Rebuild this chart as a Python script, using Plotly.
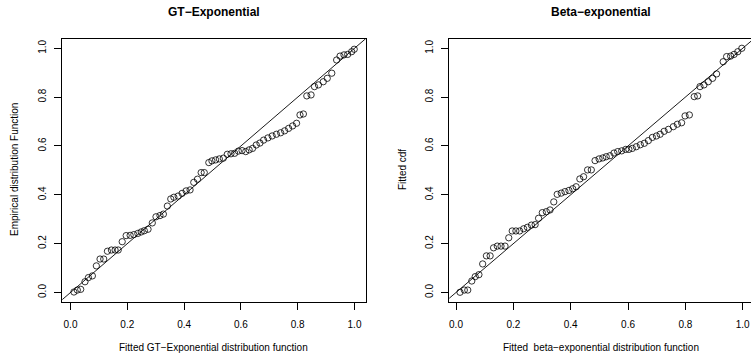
import plotly.graph_objects as go

# ---------------- data ----------------
gt_fitted = [0.012, 0.024, 0.036, 0.051, 0.063, 0.077, 0.091, 0.104, 0.117, 0.130,
             0.144, 0.157, 0.168, 0.182, 0.196, 0.210, 0.223, 0.237, 0.249, 0.260,
             0.273, 0.288, 0.301, 0.315, 0.327, 0.341, 0.353, 0.364, 0.379, 0.393,
             0.407, 0.421, 0.434, 0.447, 0.460, 0.471, 0.487, 0.498, 0.511, 0.524,
             0.538, 0.552, 0.565, 0.578, 0.591, 0.604, 0.617, 0.629, 0.641, 0.654,
             0.667, 0.680, 0.695, 0.710, 0.725, 0.740, 0.754, 0.768, 0.782, 0.796,
             0.808, 0.820, 0.832, 0.847, 0.859, 0.873, 0.890, 0.904, 0.920, 0.937,
             0.949, 0.963, 0.976, 0.990, 0.999]
gt_empirical = [0.002, 0.010, 0.013, 0.044, 0.061, 0.068, 0.109, 0.137, 0.137, 0.169,
                0.174, 0.174, 0.174, 0.208, 0.233, 0.234, 0.237, 0.242, 0.248, 0.253,
                0.259, 0.285, 0.310, 0.315, 0.321, 0.354, 0.383, 0.390, 0.395, 0.406,
                0.416, 0.420, 0.451, 0.464, 0.491, 0.491, 0.532, 0.539, 0.543, 0.547,
                0.550, 0.566, 0.568, 0.570, 0.579, 0.581, 0.577, 0.584, 0.590, 0.604,
                0.612, 0.624, 0.633, 0.641, 0.648, 0.654, 0.662, 0.672, 0.682, 0.693,
                0.727, 0.731, 0.805, 0.809, 0.843, 0.850, 0.863, 0.877, 0.898, 0.952,
                0.968, 0.973, 0.975, 0.986, 0.996]

be_fitted = [0.014, 0.029, 0.041, 0.055, 0.067, 0.080, 0.093, 0.106, 0.119, 0.131,
             0.144, 0.157, 0.171, 0.184, 0.196, 0.209, 0.222, 0.236, 0.249, 0.263,
             0.276, 0.288, 0.301, 0.315, 0.328, 0.341, 0.353, 0.367, 0.380, 0.394,
             0.407, 0.419, 0.432, 0.445, 0.459, 0.472, 0.485, 0.499, 0.512, 0.524,
             0.537, 0.551, 0.564, 0.578, 0.592, 0.603, 0.615, 0.629, 0.643, 0.657,
             0.671, 0.685, 0.699, 0.712, 0.726, 0.741, 0.758, 0.772, 0.787, 0.799,
             0.814, 0.831, 0.843, 0.851, 0.865, 0.880, 0.895, 0.909, 0.932, 0.944,
             0.958, 0.970, 0.983, 0.997]
be_cdf = [0.001, 0.010, 0.010, 0.047, 0.065, 0.073, 0.117, 0.150, 0.150, 0.183,
          0.190, 0.190, 0.190, 0.224, 0.252, 0.252, 0.252, 0.261, 0.267, 0.276,
          0.278, 0.304, 0.327, 0.331, 0.338, 0.371, 0.402, 0.407, 0.413, 0.418,
          0.425, 0.433, 0.465, 0.474, 0.502, 0.502, 0.540, 0.547, 0.551, 0.556,
          0.560, 0.571, 0.577, 0.580, 0.586, 0.586, 0.590, 0.597, 0.605, 0.611,
          0.622, 0.635, 0.641, 0.648, 0.660, 0.668, 0.679, 0.689, 0.695, 0.723,
          0.727, 0.802, 0.805, 0.843, 0.850, 0.863, 0.877, 0.895, 0.945, 0.966,
          0.968, 0.975, 0.986, 1.000]

tick_values = [0.0, 0.2, 0.4, 0.6, 0.8, 1.0]
tick_labels = ["0.0", "0.2", "0.4", "0.6", "0.8", "1.0"]

# reference line y = x (abline(0,1)), drawn across and clipped by the plot area
ref_line = [-0.2, 1.2]

# ---------------- figure ----------------
W, H = 751, 362
FONT = "Liberation Sans, Arial, Helvetica, sans-serif"

fig = go.Figure()

marker = dict(symbol="circle-open", size=6.3, color="black", line=dict(width=0.8))

fig.add_trace(go.Scatter(x=gt_fitted, y=gt_empirical, mode="markers", marker=marker,
                         xaxis="x", yaxis="y", showlegend=False, hoverinfo="skip"))
fig.add_trace(go.Scatter(x=ref_line, y=ref_line, mode="lines",
                         line=dict(color="black", width=0.9),
                         xaxis="x", yaxis="y", showlegend=False, hoverinfo="skip"))
fig.add_trace(go.Scatter(x=be_fitted, y=be_cdf, mode="markers", marker=marker,
                         xaxis="x2", yaxis="y2", showlegend=False, hoverinfo="skip"))
fig.add_trace(go.Scatter(x=ref_line, y=ref_line, mode="lines",
                         line=dict(color="black", width=0.9),
                         xaxis="x2", yaxis="y2", showlegend=False, hoverinfo="skip"))

# pixel geometry of the plot boxes
L_left, L_right = 62.3, 365.7
R_left, R_right = 449.3, 751.0
B_top, B_bottom = 39.0, 302.0

axis_common = dict(
    showline=True, linecolor="black", linewidth=1,
    showgrid=False, zeroline=False,
    ticks="outside", ticklen=7, tickwidth=1, tickcolor="black",
    tickvals=tick_values, ticktext=tick_labels,
    tickfont=dict(family=FONT, size=10, color="black"),
)

fig.update_layout(
    width=W, height=H,
    margin=dict(l=0, r=0, t=0, b=0),
    paper_bgcolor="white", plot_bgcolor="white",
    font=dict(family=FONT, color="black"),
    xaxis=dict(domain=[L_left / W, L_right / W], range=[-0.0289, 1.0394],
               mirror=True, anchor="y", ticklabelstandoff=6, **axis_common),
    yaxis=dict(domain=[(H - B_bottom) / H, (H - B_top) / H], range=[-0.0389, 1.038],
               mirror=True, anchor="x", tickangle=-90, ticklabelstandoff=4, **axis_common),
    xaxis2=dict(domain=[R_left / W, R_right / W], range=[-0.0234, 1.029],
                mirror=True, anchor="y2", ticklabelstandoff=6, **axis_common),
    yaxis2=dict(domain=[(H - B_bottom) / H, (H - B_top) / H], range=[-0.0389, 1.038],
                mirror=False, anchor="x2", tickangle=-90, ticklabelstandoff=4, **axis_common),
)

def ann(text, x, y, size=10, bold=False, angle=0):
    fig.add_annotation(text=f"<b>{text}</b>" if bold else text,
                       x=x / W, y=1 - y / H, xref="paper", yref="paper",
                       xanchor="center", yanchor="middle", showarrow=False,
                       textangle=angle, font=dict(family=FONT, size=size, color="black"))

ann("GT−Exponential", 214, 12, size=12, bold=True)
ann("Beta−exponential", 601, 12, size=12, bold=True)
ann("Fitted GT−Exponential distribution function", 214, 347)
ann("Fitted  beta−exponential distribution function", 601, 347)
ann("Empirical distribution Function", 14, 170, angle=-90)
ann("Fitted cdf", 402, 170, angle=-90)

fig.write_html(
    "out.html",
    config={"displayModeBar": False, "staticPlot": True},
    post_script="document.body.style.margin='0';document.body.style.padding='0';"
                "document.documentElement.style.overflow='hidden';",
)
